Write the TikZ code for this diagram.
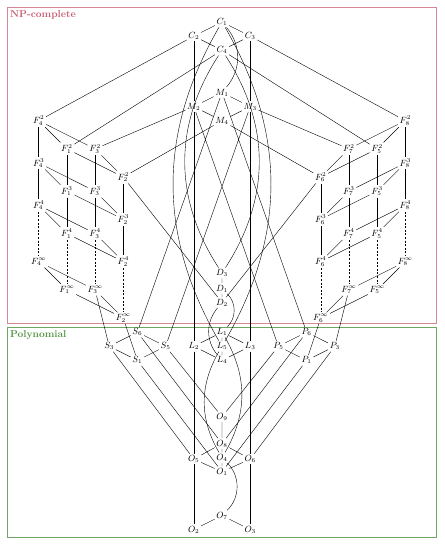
\documentclass[tikz,border=0pt]{standalone}
\usepackage{xcolor}
\definecolor{npred}{RGB}{200,95,115}
\definecolor{polygreen}{RGB}{85,150,70}
\usetikzlibrary{calc}
\tikzset{
    cls/.style={inner sep=1.6pt, font=\small},
    region/.style={draw, line width=0.7pt},
    regionlabel/.style={anchor=north west, inner sep=1pt, font=\bfseries},
    open/.style={dash pattern=on 2pt off 1.6pt},
}

\begin{document}
\begin{tikzpicture}[x=14.1pt, y=-14.1pt]
    \useasboundingbox (-222pt,22pt) rectangle (222pt,-523pt);
    \draw[region, npred!75] (-215pt,15pt) rectangle (214pt,-301pt);
    \draw[region, polygreen!85] (-215pt,-305pt) rectangle (214pt,-515pt);
    \node[regionlabel, npred] (np) at (-213pt,13pt) {NP-complete};
    \node[regionlabel, polygreen] (poly) at (-213pt,-307pt) {Polynomial};

    % central column
    \node[cls] (C1) at (0,0) {$C_1$};
    \node[cls] (C2) at (-2,1) {$C_2$};
    \node[cls] (C3) at (2,1) {$C_3$};
    \node[cls] (C4) at (0,2) {$C_4$};
    \node[cls] (M1) at (0,5) {$M_1$};
    \node[cls] (M2) at (-2,6) {$M_2$};
    \node[cls] (M3) at (2,6) {$M_3$};
    \node[cls] (M4) at (0,7) {$M_4$};
    \node[cls] (D3) at (0,17.8) {$D_3$};
    \node[cls] (D1) at (0,18.9) {$D_1$};
    \node[cls] (D2) at (0,19.9) {$D_2$};
    \node[cls] (L1) at (0,22) {$L_1$};
    \node[cls] (L2) at (-2,23) {$L_2$};
    \node[cls] (L5) at (0,23) {$L_5$};
    \node[cls] (L3) at (2,23) {$L_3$};
    \node[cls] (L4) at (0,24) {$L_4$};
    \node[cls] (O9) at (0,28) {$O_9$};
    \node[cls] (O8) at (0,29.9) {$O_8$};
    \node[cls] (O5) at (-2,31) {$O_5$};
    \node[cls] (O4) at (0,30.9) {$O_4$};
    \node[cls] (O6) at (2,31) {$O_6$};
    \node[cls] (O1) at (0,31.9) {$O_1$};
    \node[cls] (O7) at (0,35) {$O_7$};
    \node[cls] (O2) at (-2,36) {$O_2$};
    \node[cls] (O3) at (2,36) {$O_3$};

    % side diamonds
    \node[cls] (S6) at (-6,22) {$S_6$};
    \node[cls] (S3) at (-8,23) {$S_3$};
    \node[cls] (S5) at (-4,23) {$S_5$};
    \node[cls] (S1) at (-6,24) {$S_1$};
    \node[cls] (P6) at (6,22) {$P_6$};
    \node[cls] (P5) at (4,23) {$P_5$};
    \node[cls] (P3) at (8,23) {$P_3$};
    \node[cls] (P1) at (6,24) {$P_1$};

    % the F towers
    \foreach \i/\x/\dy in {4/-13/0, 1/-11/2, 3/-9/2, 2/-7/4, 8/13/0, 5/11/2, 7/9/2, 6/7/4}
        \foreach \k/\y/\s in {2/7/2, 3/10/3, 4/13/4, inf/17/\infty}
            \node[cls] (F\i-\k) at (\x,\y+\dy) {$F^{\s}_{\i}$};

    \foreach \k in {2,3,4,inf}
        \draw (F4-\k) -- (F1-\k) (F4-\k) -- (F3-\k) (F1-\k) -- (F2-\k) (F3-\k) -- (F2-\k)
              (F8-\k) -- (F5-\k) (F8-\k) -- (F7-\k) (F5-\k) -- (F6-\k) (F7-\k) -- (F6-\k);
    \foreach \i in {1,...,8} {
        \draw (F\i-2) -- (F\i-3) -- (F\i-4);
        \draw[open] (F\i-4) -- (F\i-inf);
    }

    % diamonds
    \draw (C1) -- (C2) (C1) -- (C3) (C2) -- (C4) (C3) -- (C4);
    \draw (M1) -- (M2) (M1) -- (M3) (M2) -- (M4) (M3) -- (M4);
    \draw (S6) -- (S3) (S6) -- (S5) (S3) -- (S1) (S5) -- (S1);
    \draw (P6) -- (P5) (P6) -- (P3) (P5) -- (P1) (P3) -- (P1);
    \draw (L1) -- (L2) (L1) -- (L3) (L2) -- (L4) (L3) -- (L4) (L1) -- (L5) -- (L4);
    \draw (O8) -- (O5) (O8) -- (O6) (O5) -- (O1) (O6) -- (O1) (O9) -- (O8) -- (O4) -- (O1);
    \draw (O7) -- (O2) (O7) -- (O3) (D3) -- (D1) -- (D2);

    % verticals
    \draw (C2) -- (M2) -- (L2) -- (O5) -- (O2);
    \draw (C3) -- (M3) -- (L3) -- (O6) -- (O3);

    % into the towers
    \draw (C2) -- (F4-2) (C4) -- (F1-2) (M2) -- (F3-2) (M4) -- (F2-2);
    \draw (C3) -- (F8-2) (C4) -- (F5-2) (M3) -- (F7-2) (M4) -- (F6-2);
    \draw (F3-inf) -- (S3) (F2-inf) -- (S1) (F7-inf) -- (P3) (F6-inf) -- (P1);
    \draw (F2-2) -- (D2) (F6-2) -- (D2);

    % crossing the middle
    \draw (C1) to[bend left=40] (M1);
    \draw (C1) to[bend right=30] (L5) (C1) to[bend left=30] (L5);
    \draw (C4) to[bend right=33] (D3) (C4) to[bend left=33] (D3);
    \draw (M2) -- (P5) (M3) -- (S5) (M1) -- (S6) (M1) -- (P6);
    \draw (D1) to[bend left=45] (L1) (D2) to[bend right=40] (L4);

    % down to the bottom
    \draw (S3) -- (O5) (S1) -- (O1) (S6) -- (O8) (S5) -- (O9);
    \draw (P3) -- (O6) (P1) -- (O1) (P6) -- (O8) (P5) -- (O9);
    \draw (L5) to[bend right=30] (O4) (L1) to[bend left=30] (O4);
    \draw (O4) to[bend left=45] (O7);
\end{tikzpicture}
\end{document}
